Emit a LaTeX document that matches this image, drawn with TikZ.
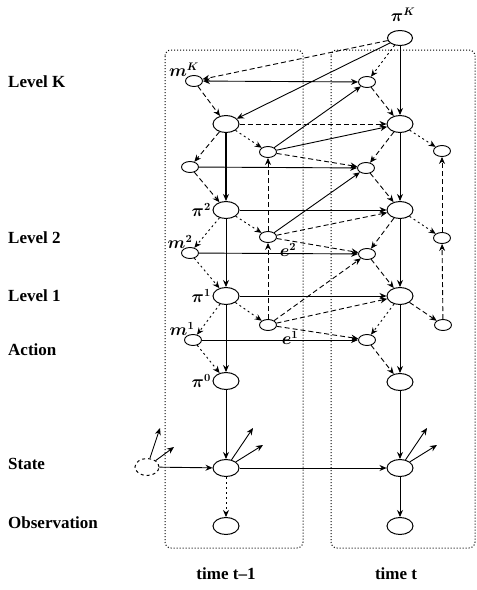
\documentclass[tikz,border=0pt]{standalone}
\usepackage{fontspec}
\setmainfont{Liberation Serif}
\usetikzlibrary{shapes.geometric,arrows.meta}
\begin{document}
\begin{tikzpicture}[x=1pt,y=-1pt,
  big/.style={ellipse,draw,line width=1pt,minimum width=26pt,minimum height=17pt,inner sep=0pt},
  sml/.style={ellipse,draw,line width=0.9pt,minimum width=17pt,minimum height=11pt,inner sep=0pt},
  tip/.style={-{Stealth[length=7pt,width=6pt]}},
  sol/.style={tip,line width=0.9pt},
  thk/.style={tip,line width=1.4pt},
  dsh/.style={tip,line width=0.9pt,dash pattern=on 5pt off 3pt},
  dot/.style={tip,line width=0.9pt,dash pattern=on 2pt off 3pt},
  frame/.style={draw,line width=1pt,dash pattern=on 1pt off 2pt,rounded corners=6pt},
  lvl/.style={anchor=west,font=\bfseries\fontsize{17}{19}\selectfont,inner sep=0pt},
  mlab/.style={font=\fontsize{16}{18}\selectfont\boldmath,inner sep=0pt}]
\useasboundingbox (0,0) rectangle (477,590);
\fill[white] (0,0) rectangle (477,590);
% frames
\draw[frame] (165,50) rectangle (303,548);
\draw[frame] (331,50) rectangle (475,548);
% row labels
\node[lvl] (lK) at (8,82) {Level K};
\node[lvl] (l2) at (8,238) {Level 2};
\node[lvl] (l1) at (8,296) {Level 1};
\node[lvl] (lA) at (8,350) {Action};
\node[lvl] (lS) at (8,464) {State};
\node[lvl] (lO) at (8,523) {Observation};
\node[lvl,anchor=center] (t1) at (226,574) {time t--1};
\node[lvl,anchor=center] (t2) at (396,574) {time t};
% nodes
\node[big,minimum width=25pt,minimum height=15pt] (piK) at (400,38) {};
\node[mlab] (piKl) at (403,15) {$\pi^{K}$};
\node[sml] (mKa) at (194,81) {};
\node[mlab] (mKal) at (184,70) {$m^{K}$};
\node[sml] (mKb) at (367,82) {};
\node[big] (pKa) at (226,124) {};
\node[big] (pKb) at (400,124) {};
\node[sml] (eK) at (268,152) {};
\node[sml] (mJa) at (190,167) {};
\node[sml] (mJb) at (366,168) {};
\node[sml] (fK) at (442,151) {};
\node[big] (p2a) at (226,210) {};
\node[mlab,anchor=east] (p2al) at (211,210) {$\pi^{2}$};
\node[big] (p2b) at (400,210) {};
\node[sml] (e2) at (268,237) {};
\node[mlab] (e2l) at (288,250) {$e^{2}$};
\node[sml] (m2a) at (190,253) {};
\node[mlab] (m2al) at (180,242) {$m^{2}$};
\node[sml] (m2b) at (367,254) {};
\node[sml] (f2) at (442,238) {};
\node[big] (p1a) at (226,296) {};
\node[mlab,anchor=east] (p1al) at (211,296) {$\pi^{1}$};
\node[big] (p1b) at (400,296) {};
\node[sml] (e1) at (268,325) {};
\node[mlab] (e1l) at (290,338) {$e^{1}$};
\node[sml] (m1a) at (193,340) {};
\node[mlab] (m1al) at (182,329) {$m^{1}$};
\node[sml] (m1b) at (367,340) {};
\node[sml] (f1) at (443,325) {};
\node[big] (p0a) at (226,381) {};
\node[mlab,anchor=east] (p0al) at (211,381) {$\pi^{0}$};
\node[big] (p0b) at (400,382) {};
\node[big] (sa) at (226,468) {};
\node[big] (sb) at (400,468) {};
\node[big,dashed,minimum width=24pt] (s0) at (147,467) {};
\node[big] (oa) at (226,526) {};
\node[big] (ob) at (400,526) {};
% stub end points
\coordinate (s0u1) at (160,428);
\coordinate (s0u2) at (174,447);
\coordinate (sau1) at (253,428);
\coordinate (sau2) at (263,445);
\coordinate (sbu1) at (427,428);
\coordinate (sbu2) at (437,445);
% level K
\draw[dsh] (piK) -- (mKa);
\draw[sol] (piK) -- (pKa);
\draw[dot] (piK) -- (mKb);
\draw[sol] (piK) -- (pKb);
\draw[{Stealth[length=7pt,width=6pt]}-{Stealth[length=7pt,width=6pt]},line width=0.9pt] (mKa) -- (mKb);
\draw[dsh] (mKa) -- (pKa);
\draw[dsh] (mKb) -- (pKb);
\draw[dsh] (pKa) -- (pKb);
\draw[dot] (pKa) -- (eK);
\draw[dsh] (pKa) -- (mJa);
\draw[thk] (pKa) -- (p2a);
\draw[sol] (eK) -- (mKb);
\draw[sol] (eK) -- (pKb);
\draw[dsh] (eK) -- (mJb);
\draw[sol] (mJa) -- (mJb);
\draw[dsh] (mJa) -- (p2a);
\draw[dsh] (pKb) -- (mJb);
\draw[sol] (pKb) -- (p2b);
\draw[dot] (pKb) -- (fK);
\draw[dsh] (mJb) -- (p2b);
% level 2
\draw[sol] (p2a) -- (p2b);
\draw[dot] (p2a) -- (e2);
\draw[dot] (p2a) -- (m2a);
\draw[sol] (p2a) -- (p1a);
\draw[sol] (e2) -- (mJb);
\draw[dsh] (e2) -- (p2b);
\draw[dsh] (e2) -- (m2b);
\draw[sol] (m2a) -- (m2b);
\draw[dot] (m2a) -- (p1a);
\draw[dsh] (p2b) -- (m2b);
\draw[sol] (p2b) -- (p1b);
\draw[dot] (p2b) -- (f2);
\draw[dsh] (m2b) -- (p1b);
% vertical chains
\draw[dsh] (e2) -- (eK);
\draw[dsh] (e1) -- (e2);
\draw[dsh] (f2) -- (fK);
\draw[dsh] (f1) -- (f2);
% level 1
\draw[sol] (p1a) -- (p1b);
\draw[dot] (p1a) -- (e1);
\draw[dot] (p1a) -- (m1a);
\draw[sol] (p1a) -- (p0a);
\draw[dsh] (e1) -- (m2b);
\draw[dsh] (e1) -- (p1b);
\draw[dsh] (e1) -- (m1b);
\draw[sol] (m1a) -- (m1b);
\draw[dot] (m1a) -- (p0a);
\draw[dot] (p1b) -- (m1b);
\draw[sol] (p1b) -- (p0b);
\draw[dsh] (p1b) -- (f1);
\draw[dsh] (m1b) -- (p0b);
% action, state, observation
\draw[sol] (p0a) -- (sa);
\draw[sol] (p0b) -- (sb);
\draw[sol] (s0) -- (sa);
\draw[sol] (sa) -- (sb);
\draw[dot] (sa) -- (oa);
\draw[sol] (sb) -- (ob);
\draw[sol] (s0) -- (s0u1);
\draw[sol] (s0) -- (s0u2);
\draw[sol] (sa) -- (sau1);
\draw[sol] (sa) -- (sau2);
\draw[sol] (sb) -- (sbu1);
\draw[sol] (sb) -- (sbu2);
\end{tikzpicture}
\end{document}
